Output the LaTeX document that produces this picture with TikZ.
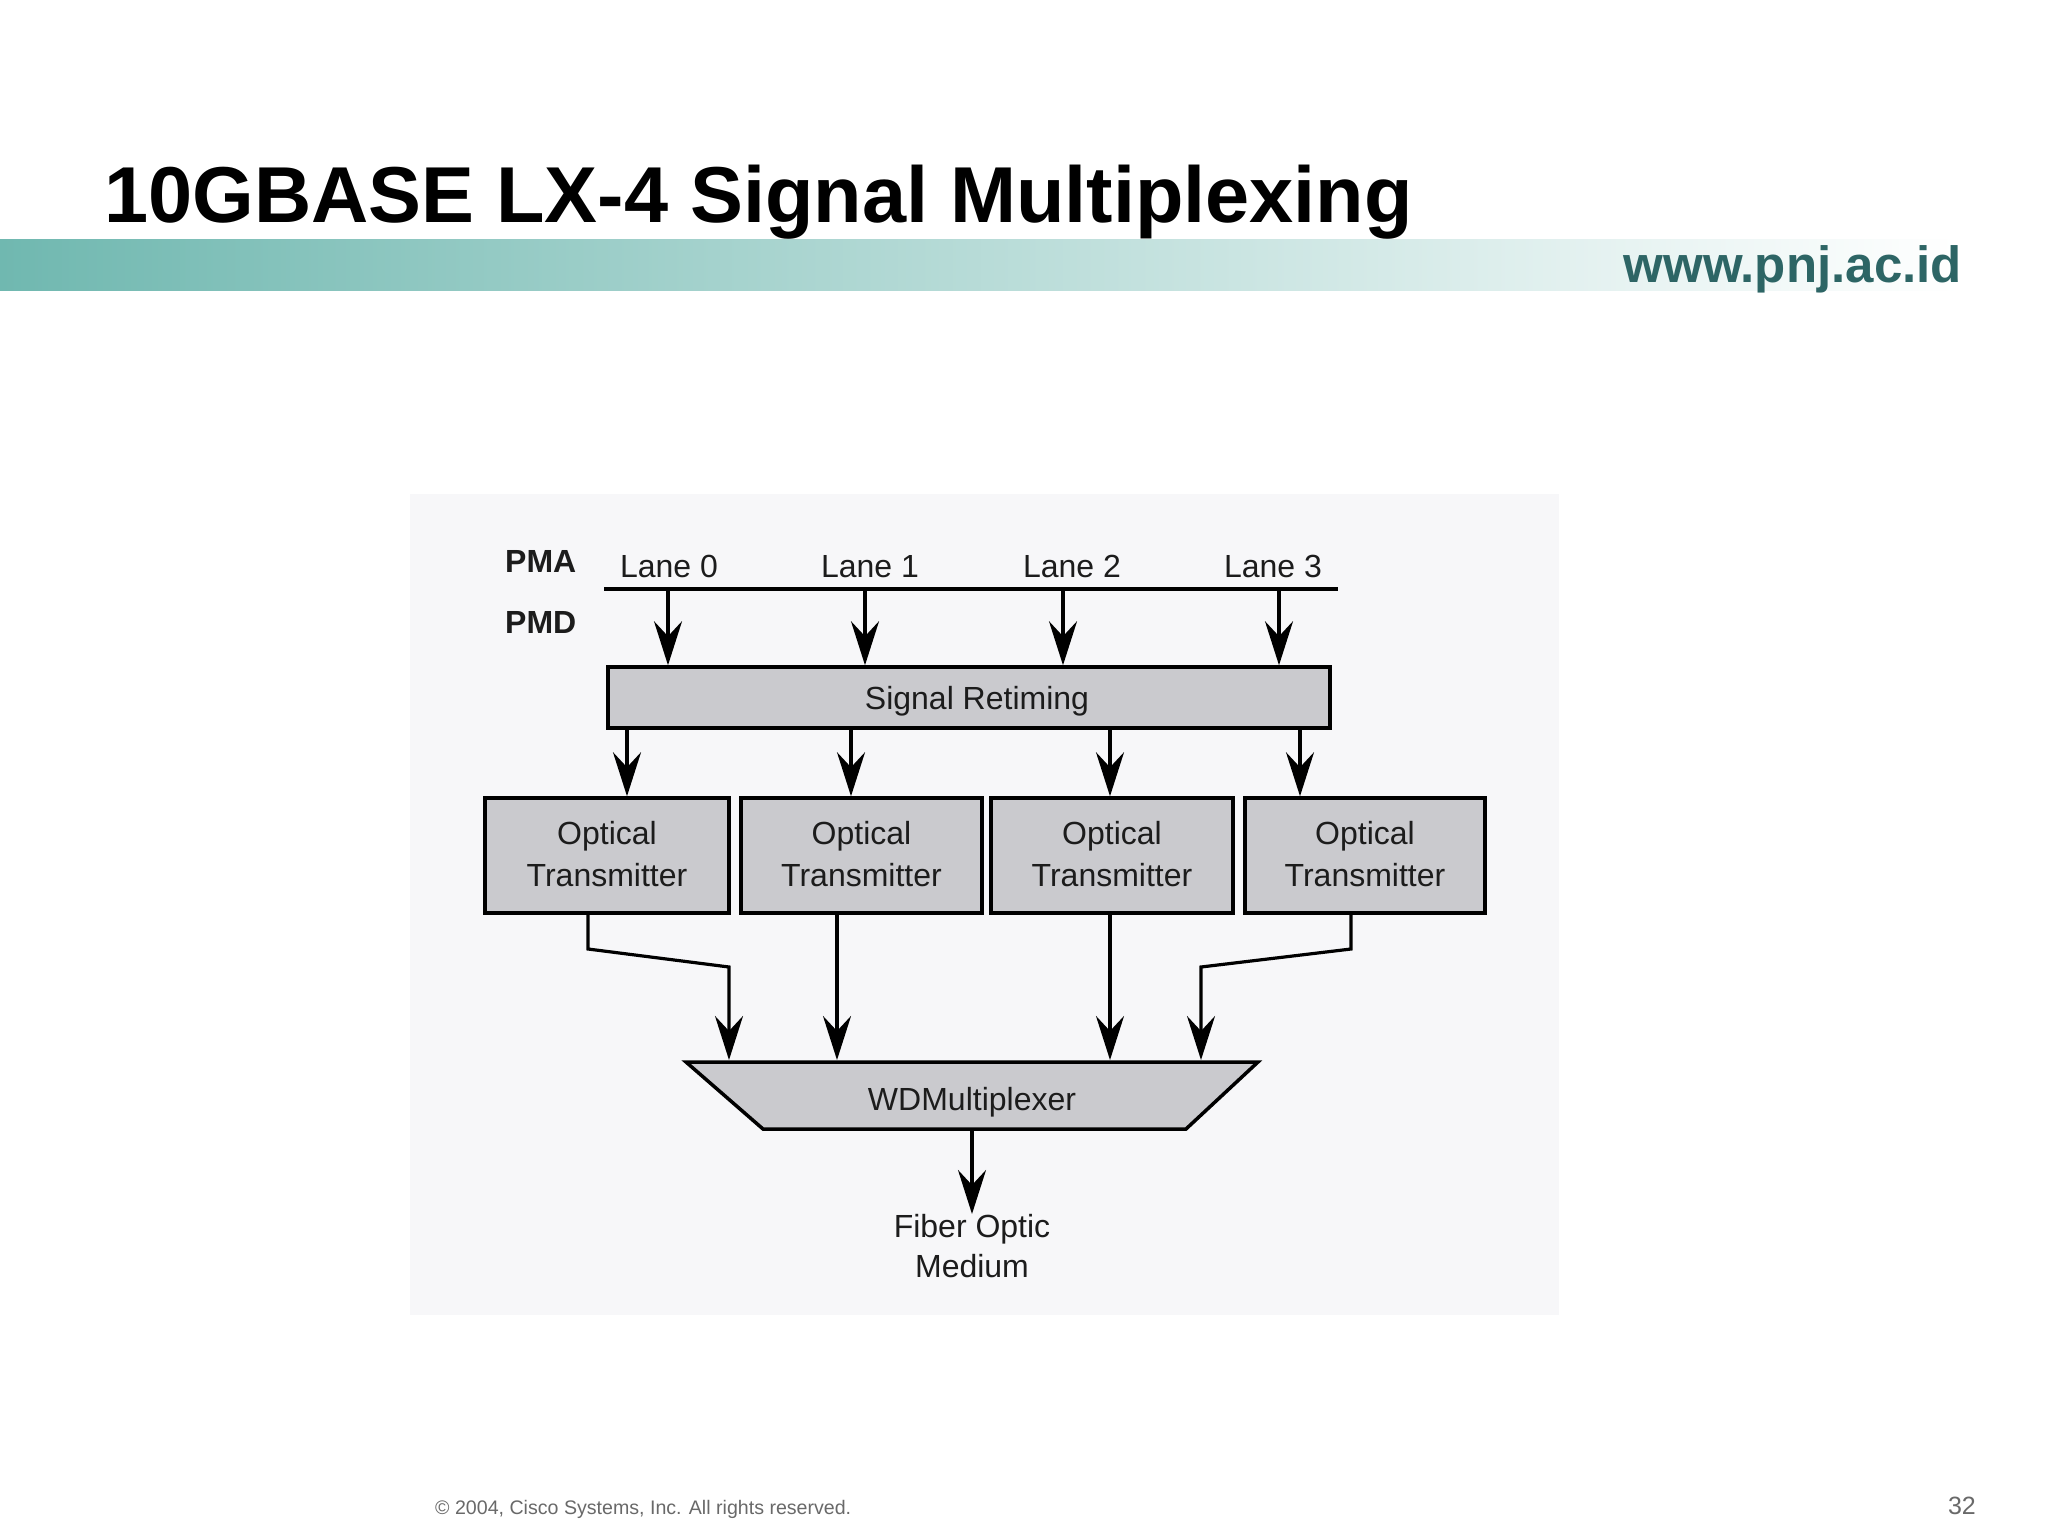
\documentclass[tikz,border=0pt]{standalone}
\usepackage{fontspec}
\setmainfont{Liberation Sans}
\usetikzlibrary{arrows.meta}
\definecolor{teal1}{RGB}{112,184,176}
\definecolor{urlc}{RGB}{45,101,101}
\definecolor{boxfill}{RGB}{202,202,206}
\definecolor{diagbg}{RGB}{247,247,249}
\definecolor{txt}{RGB}{28,28,28}
\definecolor{foot}{RGB}{105,105,105}
\begin{document}
\begin{tikzpicture}[x=1pt,y=-1pt,
  box/.style={draw=black,line width=3.5pt,fill=boxfill,inner sep=0pt,text=txt,
              font=\fontsize{32}{42}\selectfont,align=center},
  lbl/.style={text=txt,font=\fontsize{32}{40}\selectfont,inner sep=0pt},
  blbl/.style={text=txt,font=\bfseries\fontsize{32}{40}\selectfont,inner sep=0pt},
  arr/.style={line width=3.2pt,-{Stealth[length=44pt,width=28pt,inset=15pt]}},
  wire/.style={line width=3.2pt}]
\useasboundingbox (0,0) rectangle (2048,1536);
\fill[white] (0,0) rectangle (2048,1536);
% header band
\shade[left color=teal1,right color=white] (0,239) rectangle (1960,290);
\node[anchor=base west,inner sep=0pt,font=\bfseries\fontsize{79.3}{90}\selectfont] (title) at (104,222) {10GBASE LX-4 Signal Multiplexing};
\node[anchor=base east,inner sep=0pt,text=urlc,font=\bfseries\fontsize{51}{60}\selectfont] (url) at (1962,282) {www.pnj.ac.id};
% footer
\node[anchor=base west,inner sep=0pt,text=foot,font=\fontsize{19.6}{24}\selectfont] (copy) at (435,1514) {© 2004, Cisco Systems, Inc. All rights reserved.};
\node[anchor=base east,inner sep=0pt,text=foot,font=\fontsize{25}{30}\selectfont] (page) at (1976,1514) {32};
% diagram background
\fill[diagbg] (410,494) rectangle (1559,1315);
% labels
\node[blbl,anchor=base west] (pma) at (505,572) {PMA};
\node[blbl,anchor=base west] (pmd) at (505,633) {PMD};
\node[lbl,anchor=base] (lane0) at (669,577) {Lane 0};
\node[lbl,anchor=base] (lane1) at (870,577) {Lane 1};
\node[lbl,anchor=base] (lane2) at (1072,577) {Lane 2};
\node[lbl,anchor=base] (lane3) at (1273,577) {Lane 3};
% bus
\coordinate (busL) at (604,589);
\coordinate (busR) at (1338,589);
\draw[line width=4pt] (busL) -- (busR);
% boxes
\node[box,minimum width=722pt,minimum height=61pt,text depth=0pt] (sr) at (969,697.5) {\hspace*{16pt}Signal Retiming};
\node[box,minimum width=244pt,minimum height=115pt,text depth=3pt] (t1) at (607,855.5) {Optical\\Transmitter};
\node[box,minimum width=241pt,minimum height=115pt,text depth=3pt] (t2) at (861.5,855.5) {Optical\\Transmitter};
\node[box,minimum width=242pt,minimum height=115pt,text depth=3pt] (t3) at (1112,855.5) {Optical\\Transmitter};
\node[box,minimum width=240pt,minimum height=115pt,text depth=3pt] (t4) at (1365,855.5) {Optical\\Transmitter};
% WDM trapezoid
\draw[line width=3.5pt,fill=boxfill] (686,1062) -- (1258,1062) -- (1186,1129) -- (763,1129) -- cycle;
\node[lbl,anchor=base] (wdm) at (972,1110) {WDMultiplexer};
\coordinate (wT) at (972,1060);
\coordinate (wB) at (972,1129);
\node[lbl,anchor=north,align=center] (fiber) at (972,1214) {Fiber Optic\\Medium};
% bus -> retiming
\coordinate (x0) at (668,0);
\coordinate (x1) at (865,0);
\coordinate (x2) at (1063,0);
\coordinate (x3) at (1279,0);
\foreach \c in {x0,x1,x2,x3} \draw[arr] (\c |- busL) -- (\c |- sr.north);
% retiming -> transmitters
\coordinate (y1) at (627,0);
\coordinate (y2) at (851,0);
\coordinate (y3) at (1110,0);
\coordinate (y4) at (1300,0);
\draw[arr] (y1 |- sr.south) -- (y1 |- t1.north);
\draw[arr] (y2 |- sr.south) -- (y2 |- t2.north);
\draw[arr] (y3 |- sr.south) -- (y3 |- t3.north);
\draw[arr] (y4 |- sr.south) -- (y4 |- t4.north);
% transmitters -> WDM
\coordinate (o1) at (588,0);
\coordinate (k1) at (588,949);
\coordinate (m1) at (729,967);
\coordinate (o2) at (837,0);
\coordinate (o3) at (1110,0);
\coordinate (o4) at (1351,0);
\coordinate (k4) at (1351,949);
\coordinate (m4) at (1201,967);
\draw[arr] (o1 |- t1.south) -- (k1) -- (m1) -- (m1 |- wT);
\draw[arr] (o2 |- t2.south) -- (o2 |- wT);
\draw[arr] (o3 |- t3.south) -- (o3 |- wT);
\draw[arr] (o4 |- t4.south) -- (k4) -- (m4) -- (m4 |- wT);
% WDM -> fiber
\draw[arr] (wB) -- (fiber.north);
\end{tikzpicture}
\end{document}
